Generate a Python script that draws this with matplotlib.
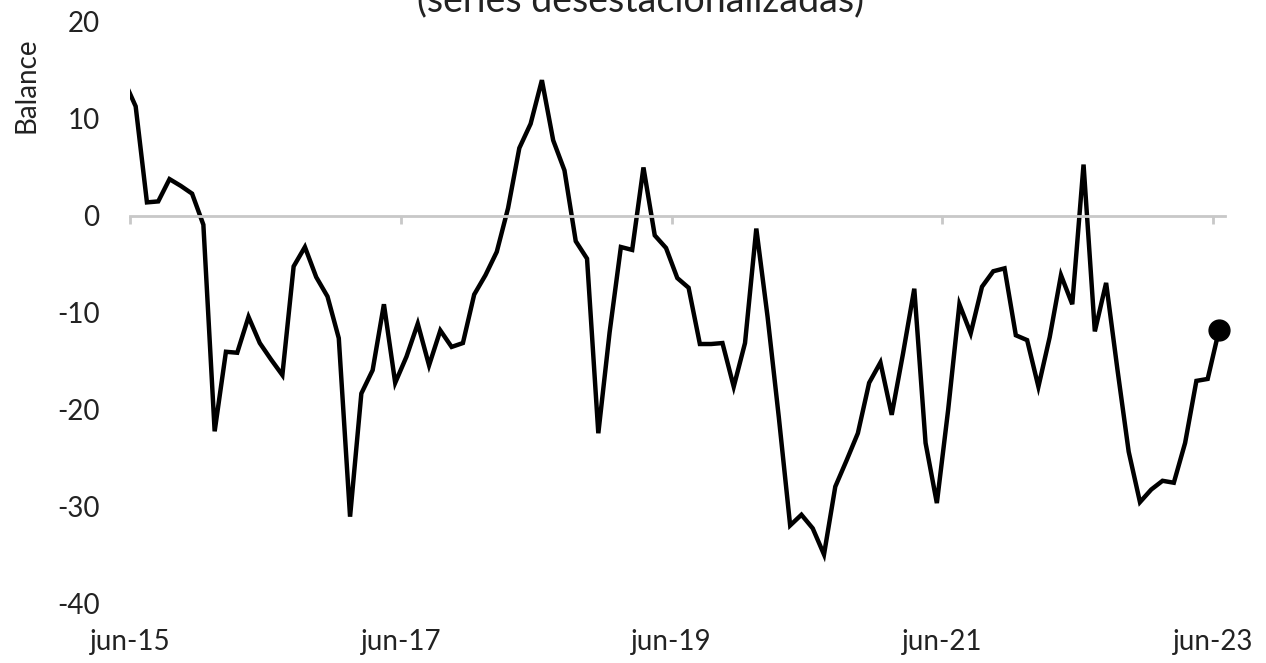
import matplotlib
matplotlib.use("Agg")
import matplotlib.pyplot as plt
import numpy as np

plt.rcParams['font.family'] = ['Lato', 'DejaVu Sans']
plt.rcParams['axes.unicode_minus'] = False

# monthly balance, may-15 .. jun-23 (first point sits just left of the axis and is clipped)
balance = [13.9, 11.3, 1.4, 1.5, 3.8, 3.1, 2.3, -0.9, -22.2, -14.0,
           -14.1, -10.4, -13.1, -14.8, -16.4, -5.2, -3.2, -6.3, -8.3, -12.6,
           -31.0, -18.3, -15.9, -9.1, -17.2, -14.5, -11.1, -15.4, -11.8, -13.5,
           -13.1, -8.1, -6.1, -3.7, 0.8, 7.0, 9.5, 14.0, 7.8, 4.7,
           -2.6, -4.4, -22.4, -12.0, -3.2, -3.5, 5.0, -2.0, -3.3, -6.4,
           -7.4, -13.2, -13.2, -13.1, -17.6, -13.1, -1.3, -10.4, -20.8, -31.9,
           -30.8, -32.2, -34.9, -27.9, -25.2, -22.4, -17.2, -15.1, -20.5, -14.2,
           -7.5, -23.4, -29.6, -20.0, -9.1, -12.1, -7.3, -5.7, -5.4, -12.3,
           -12.8, -17.6, -12.5, -6.1, -9.1, 5.3, -11.9, -6.9, -15.8, -24.3,
           -29.5, -28.2, -27.3, -27.5, -23.4, -17.0, -16.8, -11.8]
tick_labels = ['jun-15', 'jun-17', 'jun-19', 'jun-21', 'jun-23']
y_ticks = [20, 10, 0, -10, -20, -30, -40]

x = np.arange(len(balance))
tick_pos = [0.5 + 24 * i for i in range(len(tick_labels))]

fig = plt.figure(figsize=(12.66, 6.63), dpi=100)
ax = fig.add_axes([0.1027, 0.089, 0.8646, 0.8779])

ax.plot(x, balance, color='black', lw=3.2, solid_joinstyle='miter')
ax.plot(x[-1], balance[-1], 'o', color='black', ms=15, clip_on=False)

ax.set_xlim(0.5, 97.5)
ax.set_ylim(-40, 20)
ax.set_yticks(y_ticks)
ax.tick_params(axis='y', length=0, labelsize=20, pad=22, labelcolor='#222222')

for s in ['top', 'right', 'left']:
    ax.spines[s].set_visible(False)
ax.spines['bottom'].set_position(('data', 0))
ax.spines['bottom'].set_color('#C8C8C8')
ax.spines['bottom'].set_linewidth(2)
ax.set_xticks(tick_pos)
ax.set_xticklabels([])
ax.tick_params(axis='x', direction='out', length=6, width=2, color='#C8C8C8')

sec = ax.secondary_xaxis('bottom')
sec.set_xticks(tick_pos)
sec.set_xticklabels(tick_labels)
sec.spines['bottom'].set_visible(False)
sec.tick_params(length=0, labelsize=20, pad=18, labelcolor='#222222')

ax.set_ylabel('Balance', fontsize=20, color='#222222')
ax.yaxis.set_label_coords(-0.083, 0.892)

fig.text(0.506, 1 - 11 / 663, '(series desestacionalizadas)', ha='center',
         va='baseline', fontsize=27, color='#222222')

fig.savefig('out.png', dpi=100)
